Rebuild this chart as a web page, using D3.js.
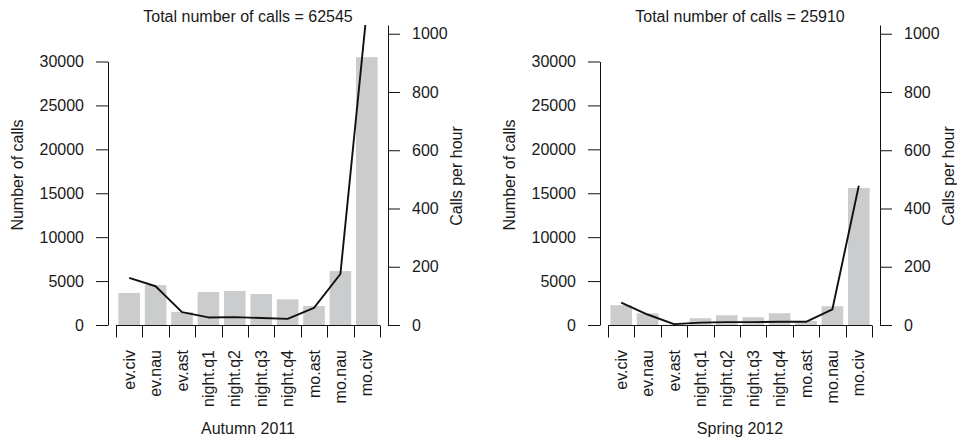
<!DOCTYPE html>
<html>
<head>
<meta charset="utf-8">
<script src="https://cdn.jsdelivr.net/npm/d3@7"></script>
<style>
  html, body { margin: 0; padding: 0; background: #fff; }
  svg { display: block; }
  text { font-family: "Liberation Sans", Arial, sans-serif; font-size: 16px; fill: #1a1a1a; }
</style>
</head>
<body>
<svg id="chart" width="957" height="439"></svg>
<script>
// Twilight / night periods
const periods = ["ev.civ", "ev.nau", "ev.ast", "night.q1", "night.q2", "night.q3", "night.q4", "mo.ast", "mo.nau", "mo.civ"];

// Autumn 2011
const autumnCalls   = [3650, 4550, 1480, 3750, 3870, 3530, 2920, 2160, 6140, 30495];
const autumnPerHour = [162, 133, 44, 26, 27, 24, 21, 59, 175, 1080];
const autumnTotal   = 62545;

// Spring 2012
const springCalls   = [2250, 1330, 30, 770, 1110, 880, 1340, 460, 2140, 15600];
const springPerHour = [77, 36, 3, 8, 10, 10, 11, 11, 54, 478];
const springTotal   = 25910;

const callTicks    = [0, 5000, 10000, 15000, 20000, 25000, 30000];
const perHourTicks = [0, 200, 400, 600, 800, 1000];

const panels = [
  { season: "Autumn 2011", calls: autumnCalls, perHour: autumnPerHour, total: autumnTotal, dx: 0 },
  { season: "Spring 2012", calls: springCalls, perHour: springPerHour, total: springTotal, dx: 492 }
];

const svg = d3.select("#chart");

panels.forEach((p, idx) => {
  const g = svg.append("g").attr("transform", `translate(${p.dx},0)`);

  const x = d3.scaleBand().domain(periods).range([116, 380])
    .paddingInner(0.18).paddingOuter(0.09);
  const yCalls = d3.scaleLinear().domain([0, 30000]).range([325, 61.5]);
  const yRate  = d3.scaleLinear().domain([0, 1030]).range([325, 25]);

  const clipId = "plotclip" + idx;
  g.append("clipPath").attr("id", clipId)
    .append("rect").attr("x", 100).attr("y", 25).attr("width", 290).attr("height", 302);

  // bars: number of calls
  g.append("g").selectAll("rect").data(p.calls).join("rect")
    .attr("x", (d, i) => x(periods[i]))
    .attr("width", x.bandwidth())
    .attr("y", d => yCalls(d))
    .attr("height", d => yCalls(0) - yCalls(d))
    .attr("fill", "#cbcccd");

  // line: calls per hour
  const line = d3.line()
    .x((d, i) => x(periods[i]) + x.bandwidth() / 2)
    .y(d => yRate(d));
  g.append("path").datum(p.perHour)
    .attr("clip-path", `url(#${clipId})`)
    .attr("d", line)
    .attr("fill", "none")
    .attr("stroke", "#111")
    .attr("stroke-width", 1.9)
    .attr("stroke-linejoin", "round");

  // left axis
  const axL = g.append("g").attr("transform", "translate(108,0)")
    .call(d3.axisLeft(yCalls).tickValues(callTicks).tickFormat(d3.format("d"))
      .tickSize(12).tickSizeOuter(0).tickPadding(12));

  // right axis
  const axR = g.append("g").attr("transform", "translate(388,0)")
    .call(d3.axisRight(yRate).tickValues(perHourTicks).tickFormat(d3.format("d"))
      .tickSize(12).tickSizeOuter(0).tickPadding(12));

  // bottom axis: ticks at period boundaries
  const step = x.step();
  const x0 = x.range()[0];
  const bounds = d3.range(periods.length + 1).map(i => x0 + i * step);
  const axB = g.append("g");
  axB.append("line").attr("x1", bounds[0]).attr("x2", bounds[bounds.length - 1])
    .attr("y1", 325.5).attr("y2", 325.5).attr("stroke", "#111");
  axB.selectAll("line.tk").data(bounds).join("line").attr("class", "tk")
    .attr("x1", d => Math.round(d) + 0.5).attr("x2", d => Math.round(d) + 0.5)
    .attr("y1", 325.5).attr("y2", 337.5).attr("stroke", "#111");
  axB.selectAll("text").data(periods).join("text")
    .attr("transform", d => `translate(${x(d) + x.bandwidth() / 2},350) rotate(-90)`)
    .attr("text-anchor", "end")
    .attr("dy", "0.35em")
    .text(d => d);

  [axL, axR].forEach(a => {
    a.selectAll("path.domain").attr("stroke", "#111");
    a.selectAll(".tick line").attr("stroke", "#111");
    a.selectAll("text").attr("font-size", 16).attr("font-family", "Liberation Sans, Arial, sans-serif").attr("fill", "#1a1a1a");
  });

  // titles
  g.append("text").attr("x", 248).attr("y", 21.5).attr("text-anchor", "middle")
    .text(`Total number of calls = ${p.total}`);
  g.append("text").attr("x", 248).attr("y", 434).attr("text-anchor", "middle")
    .text(p.season);
  g.append("text").attr("transform", "translate(22.5,175) rotate(-90)")
    .attr("text-anchor", "middle").text("Number of calls");
  g.append("text").attr("transform", "translate(461.5,176) rotate(-90)")
    .attr("text-anchor", "middle").text("Calls per hour");
});
</script>
</body>
</html>
